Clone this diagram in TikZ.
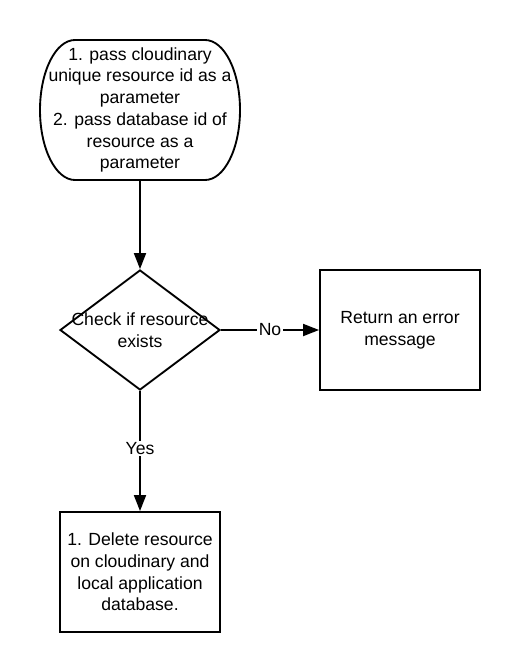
\documentclass[tikz,border=0pt]{standalone}
\usepackage{fontspec}
\setmainfont{Liberation Sans}
\usetikzlibrary{arrows.meta,shapes.geometric,positioning}
\tikzset{
  > = {Triangle[length=12pt, width=9pt]},
  flow line/.style = {line width=1.4pt, ->},
  box/.style = {draw, line width=1.4pt, minimum width=120pt, minimum height=90pt, align=center, inner sep=0pt},
  decision/.style = {diamond, draw, line width=1.4pt, minimum width=120pt, minimum height=90pt, inner sep=0pt},
  terminal/.style = {minimum width=150pt, minimum height=105pt, align=center, inner sep=0pt},
  flow label/.style = {fill=white, inner sep=1pt},
}

\begin{document}
\begin{tikzpicture}[x=0.75pt, y=-0.75pt, font=\fontsize{13.2}{16.3}\selectfont]

  \useasboundingbox (0,0) rectangle (520,671);

  %% define nodes
  \node[terminal] (start) at (140,110) {1. pass cloudinary\\unique resource id as a\\parameter\\2. pass database id of\\resource as a\\parameter};
  \node[decision, label={[align=center]center:Check if resource\\exists}] (check) at (140,330) {};
  \node[box] (error) at (400,330) {Return an error\\message};
  \node[box] (delete) at (140,572) {1. Delete resource\\on cloudinary and\\local application\\database.};

  % draw terminal outline
  \draw[line width=1.4pt] (75,40) -- (205,40)
    arc[start angle=90, end angle=0, x radius=26.25pt, y radius=52.5pt]
    arc[start angle=0, end angle=-90, x radius=26.25pt, y radius=52.5pt]
    -- (75,180)
    arc[start angle=270, end angle=180, x radius=26.25pt, y radius=52.5pt]
    arc[start angle=180, end angle=90, x radius=26.25pt, y radius=52.5pt]
    -- cycle;

  % draw connectors
  \draw[flow line] (start.south) ++(0,-1) -- (check);
  \draw[flow line] (check) -- node[flow label, pos=0.5] {No} (error);
  \draw[flow line] (check) -- node[flow label, pos=0.48] {Yes} (delete);
\end{tikzpicture}
\end{document}
